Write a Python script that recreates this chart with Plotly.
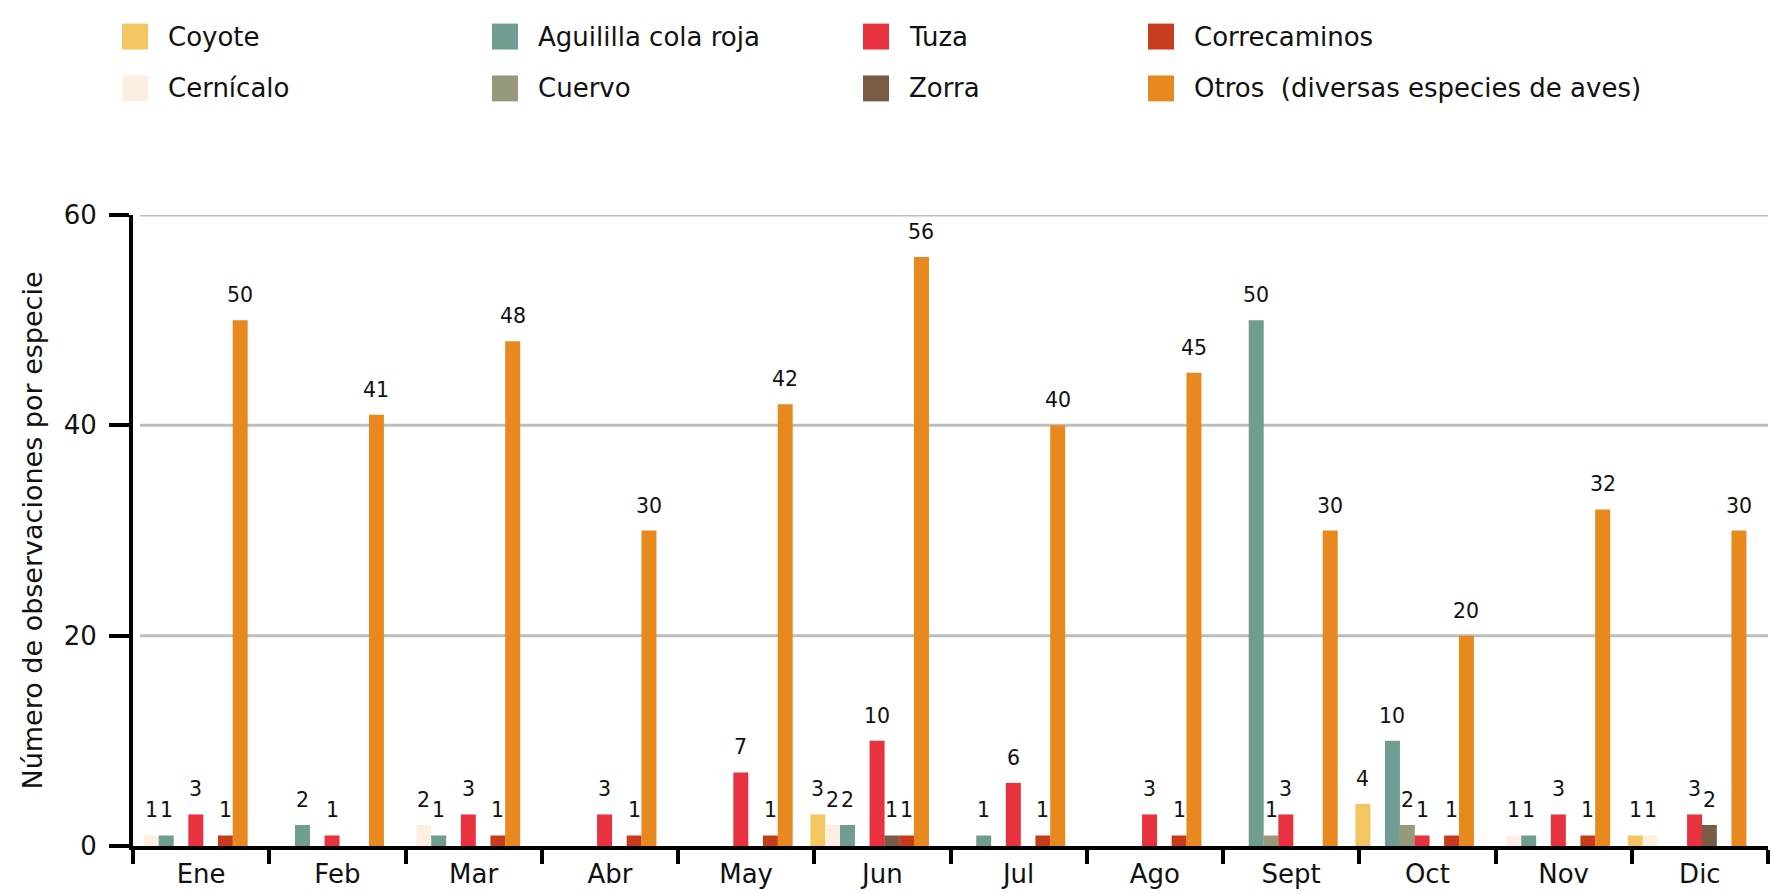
import plotly.graph_objects as go

# Monthly observations per species
months = ["Ene", "Feb", "Mar", "Abr", "May", "Jun", "Jul", "Ago", "Sept", "Oct", "Nov", "Dic"]

coyote       = [0, 0, 0, 0, 0, 3, 0, 0, 0, 4, 0, 1]
cernicalo    = [1, 0, 2, 0, 0, 2, 0, 0, 0, 0, 1, 1]
aguililla    = [1, 2, 1, 0, 0, 2, 1, 0, 50, 10, 1, 0]
cuervo       = [0, 0, 0, 0, 0, 0, 0, 0, 1, 2, 0, 0]
tuza         = [3, 1, 3, 3, 7, 10, 6, 3, 3, 1, 3, 3]
zorra        = [0, 0, 0, 0, 0, 1, 0, 0, 0, 0, 0, 2]
correcaminos = [1, 0, 1, 1, 1, 1, 1, 1, 0, 1, 1, 0]
otros        = [50, 41, 48, 30, 42, 56, 40, 45, 30, 20, 32, 30]

species = ["Coyote", "Cernícalo", "Aguililla cola roja", "Cuervo",
           "Tuza", "Zorra", "Correcaminos", "Otros  (diversas especies de aves)"]
series = [coyote, cernicalo, aguililla, cuervo, tuza, zorra, correcaminos, otros]
colors = ["#F4C662", "#FCEFE2", "#6F9D91", "#98997A",
          "#E8323F", "#7A5C46", "#C63C1D", "#E8891F"]

y_ticks = [0, 20, 40, 60]

FONT = "DejaVu Sans"
W, H = 1773, 894
ML, MR, MT, MB = 133, 5, 215, 46
PW, PH = W - ML - MR, H - MT - MB

BAR_W = 0.110      # bar width in category units
STEP = 0.1086      # distance between neighbouring bars
FIRST = -0.4734    # centre of the first bar relative to the category centre


def px_x(px):
    return (px - ML) / PW


def px_y(py):
    return (H - MB - py) / PH


fig = go.Figure()
annotations = []

for k, (name, vals, col) in enumerate(zip(species, series, colors)):
    centre = FIRST + k * STEP
    fig.add_trace(go.Bar(
        x=months, y=vals, name=name,
        offset=centre - BAR_W / 2, width=BAR_W,
        marker=dict(color=col, line=dict(width=0)),
        showlegend=False,
    ))
    for i, v in enumerate(vals):
        if v:
            annotations.append(dict(
                x=i + centre, y=v, xref="x", yref="y",
                text=str(v), showarrow=False,
                yanchor="middle", yshift=25,
                font=dict(family=FONT, size=20.5, color="#111"),
            ))

# legend: four columns of two entries each
legend_cols = [122, 492, 863, 1148]
legend_rows = [36, 88]
shapes = []
for k, (name, col) in enumerate(zip(species, colors)):
    cx = legend_cols[k // 2]
    cy = legend_rows[k % 2]
    shapes.append(dict(
        type="rect", xref="paper", yref="paper",
        x0=px_x(cx), x1=px_x(cx + 26), y0=px_y(cy + 13), y1=px_y(cy - 13),
        fillcolor=col, line=dict(width=0),
    ))
    annotations.append(dict(
        x=px_x(cx + 44), y=px_y(cy), xref="paper", yref="paper",
        text=name, showarrow=False, xanchor="left", yanchor="middle",
        font=dict(family=FONT, size=26, color="#111"),
    ))

# horizontal grid lines, starting just right of the axis
for t in y_ticks[1:]:
    shapes.append(dict(
        type="line", xref="paper", yref="y",
        x0=px_x(140), x1=1, y0=t, y1=t,
        line=dict(color="#BDBDBD", width=3), layer="below",
    ))

fig.update_layout(
    width=W, height=H, autosize=False,
    margin=dict(l=ML, r=MR, t=MT, b=MB),
    paper_bgcolor="white", plot_bgcolor="white",
    barmode="overlay",
    font=dict(family=FONT, size=24, color="#111"),
    shapes=shapes, annotations=annotations,
    xaxis=dict(
        type="category", range=[-0.5, 11.5],
        tickson="boundaries", ticks="outside", ticklen=14, tickwidth=4,
        tickcolor="black", showline=True, linecolor="black", linewidth=4,
        showgrid=False, tickfont=dict(family=FONT, size=26),
        ticklabelstandoff=2,
    ),
    yaxis=dict(
        range=[0, 60], tickvals=y_ticks, ticks="outside", ticklen=20,
        tickwidth=4, tickcolor="black", showline=True, linecolor="black",
        linewidth=4, showgrid=False, zeroline=False,
        tickfont=dict(family=FONT, size=26), ticklabelstandoff=7,
        title=dict(text="Número de observaciones por especie",
                   font=dict(family=FONT, size=27), standoff=14),
    ),
)

fig.write_html("out.html")
